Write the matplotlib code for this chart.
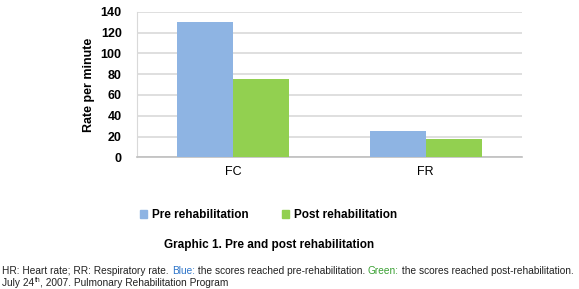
import matplotlib
matplotlib.use("Agg")
import matplotlib.pyplot as plt
from matplotlib.patches import Patch
import numpy as np

categories = ["FC", "FR"]
pre_values = [130, 25]
post_values = [75, 18]
series_names = ["Pre rehabilitation", "Post rehabilitation"]
y_ticks = [0, 20, 40, 60, 80, 100, 120, 140]

blue = "#8EB4E3"
green = "#92D050"
plt.rcParams['font.family'] = ['Liberation Sans', 'DejaVu Sans']

fig = plt.figure(figsize=(5.79, 2.89), dpi=100)
ax = fig.add_axes([0.2366, 0.4557, 0.9016 - 0.2366, 0.9595 - 0.4557])

x = np.arange(len(categories))
w = 0.29
ax.bar(x - w / 2, pre_values, w, color=blue, zorder=3)
ax.bar(x + w / 2, post_values, w, color=green, zorder=3)

ax.set_xlim(-0.5, 1.5)
ax.set_ylim(0, 140)
ax.set_yticks(y_ticks)
ax.set_yticklabels([str(v) for v in y_ticks], fontsize=9, fontweight='bold')
ax.set_xticks(x)
ax.set_xticklabels(categories, fontsize=9)
ax.tick_params(axis='both', length=0)
ax.tick_params(axis='y', pad=11)
ax.tick_params(axis='x', pad=6)
ax.yaxis.grid(True, color="#D9D9D9", linewidth=1.2, zorder=0)
for s in ["top", "right"]:
    ax.spines[s].set_visible(False)
ax.spines["left"].set_color("#D9D9D9")
ax.spines["bottom"].set_color("#BFBFBF")
ax.spines["bottom"].set_linewidth(1.2)
ax.set_ylabel("Rate per minute", fontsize=9, fontweight='bold', labelpad=4)

handles = [Patch(color=blue), Patch(color=green)]
fig.legend(handles, series_names, loc='center', bbox_to_anchor=(268.5 / 579, 0.255), ncol=2,
           frameon=False, handlelength=0.6, handleheight=0.6, handletextpad=0.4,
           columnspacing=2.8, prop={'size': 8.5, 'weight': 'bold'})

fig.text(269 / 579, 0.152, "Graphic 1. Pre and post rehabilitation", ha='center', va='center',
         fontsize=8.5, fontweight='bold')

fs = 7.25
t1 = fig.text(0.004, 1 - 271 / 289, "HR: Heart rate; RR: Respiratory rate. ", fontsize=fs, va='center', color="#222222")
t2 = ax.annotate("Blue:", xy=(1, 0), xycoords=t1, va='bottom', fontsize=fs, color="#2E75C9", annotation_clip=False)
t3 = ax.annotate(" the scores reached pre-rehabilitation. ", xy=(1, 0), xycoords=t2, va='bottom', fontsize=fs, color="#222222", annotation_clip=False)
t4 = ax.annotate("Green:", xy=(1, 0), xycoords=t3, va='bottom', fontsize=fs, color="#3AA033", annotation_clip=False)
t5 = ax.annotate(" the scores reached post-rehabilitation.", xy=(1, 0), xycoords=t4, va='bottom', fontsize=fs, color="#222222", annotation_clip=False)

u1 = fig.text(0.004, 1 - 283 / 289, "July 24", fontsize=fs, va='center', color="#222222")
u2 = ax.annotate("th", xy=(1, 0.45), xycoords=u1, va='bottom', fontsize=4.8, color="#222222", annotation_clip=False)
u3 = ax.annotate(", 2007. Pulmonary Rehabilitation Program", xy=(1, 0), xycoords=u1, xytext=(6, 0),
                 textcoords='offset pixels', va='bottom', fontsize=fs, color="#222222", annotation_clip=False)

fig.savefig("out.png", dpi=100)
